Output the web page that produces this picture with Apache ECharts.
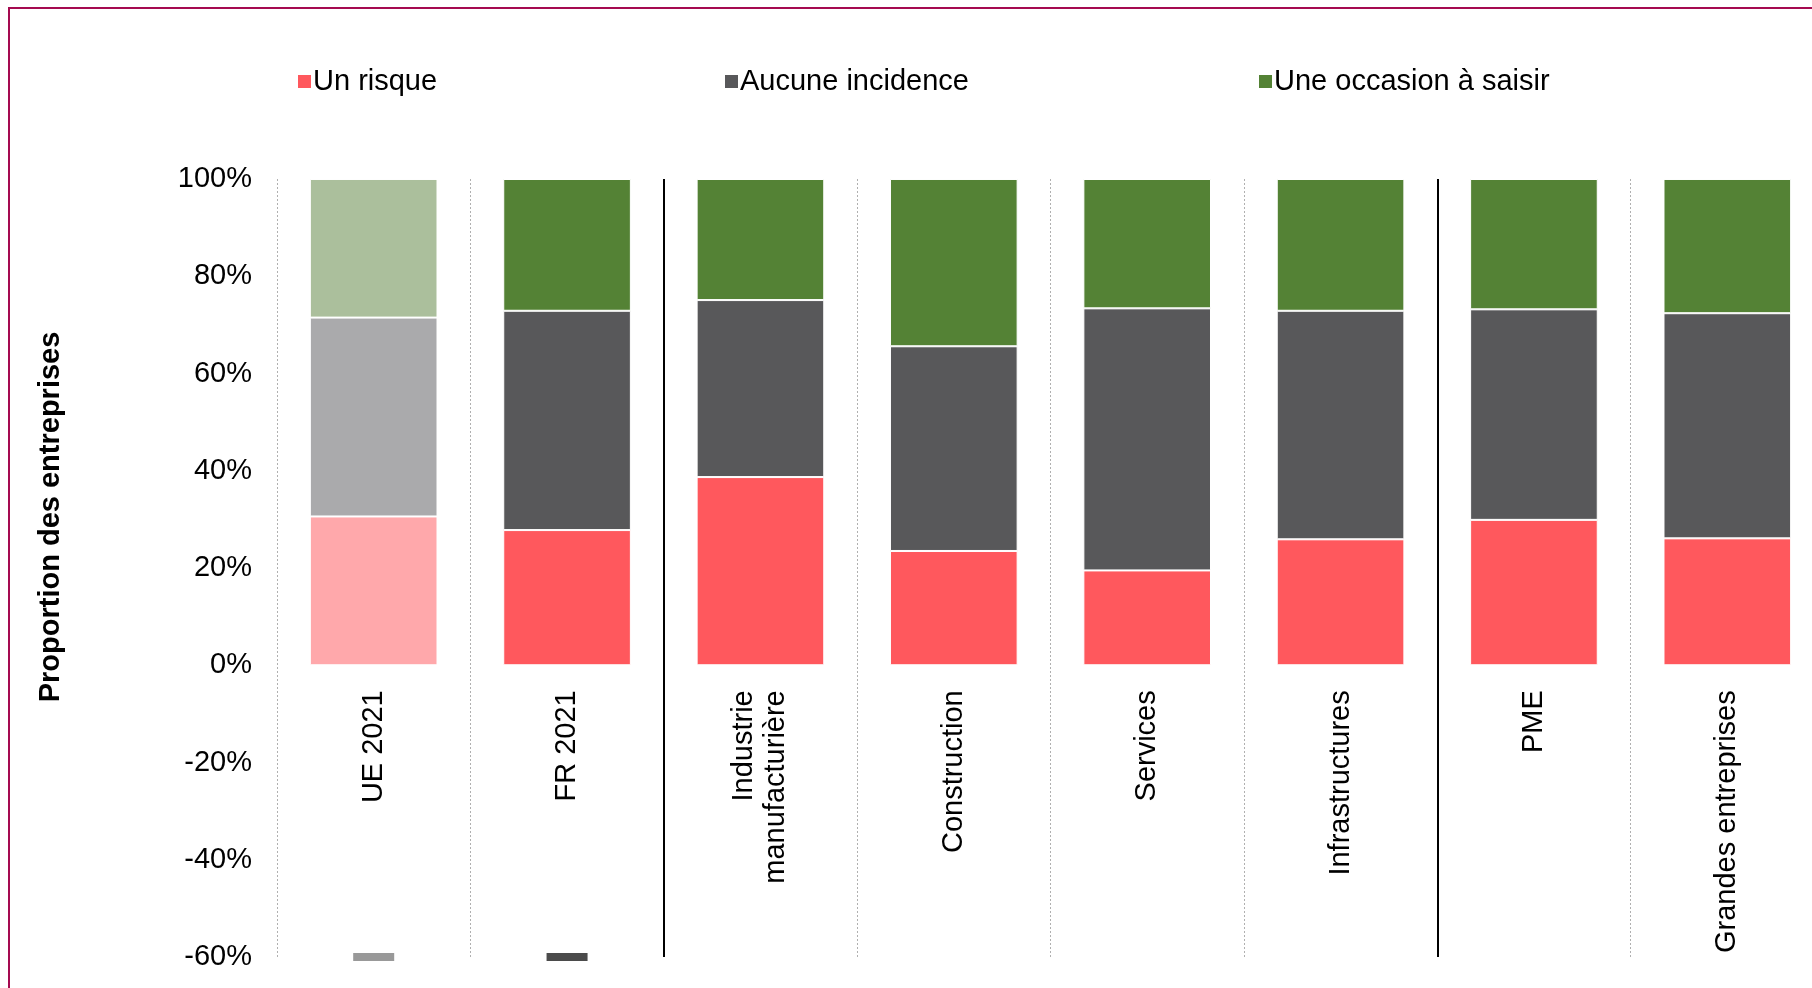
<!DOCTYPE html>
<html>
<head>
<meta charset="utf-8">
<script src="https://cdn.jsdelivr.net/npm/echarts@6/dist/echarts.min.js"></script>
<style>
html,body{margin:0;padding:0;background:#fff;overflow:hidden;}
#frame{position:absolute;left:8px;top:7px;width:1900px;height:1100px;border-left:2px solid #a50a50;border-top:2px solid #a50a50;box-sizing:border-box;}
#chart{position:absolute;left:0;top:0;width:1812px;height:988px;}
</style>
</head>
<body>
<div id="frame"></div>
<div id="chart"></div>
<script>
var categories = ['UE 2021', 'FR 2021', 'Industrie\nmanufacturière', 'Construction', 'Services', 'Infrastructures', 'PME', 'Grandes entreprises'];
var seriesNames = ['Un risque', 'Aucune incidence', 'Une occasion à saisir'];
var risque = [30.6, 27.8, 38.7, 23.5, 19.5, 25.9, 29.9, 26.1];
var aucune = [40.9, 45.1, 36.4, 42.1, 53.9, 47.0, 43.3, 46.3];
var occasion = [28.5, 27.1, 24.9, 34.4, 26.6, 27.1, 26.8, 27.6];
var yTicks = [-60, -40, -20, 0, 20, 40, 60, 80, 100];
var markerCats = ['UE 2021', 'FR 2021'];
var markerVals = [-60, -60];
var separators = [2, 6];

var colors = ['#ff585d', '#58585a', '#548235'];
var fadedColors = ['#ffa8ab', '#aaaaac', '#abbf9c'];
var FONT = 'Liberation Sans, Arial, sans-serif';

var GRID_TOP = 179, GRID_H = 778;
var yMin = yTicks[0], yMax = yTicks[yTicks.length - 1];
// distance from the bottom of the grid up to the 0% line
var zeroOffset = GRID_H * (0 - yMin) / (yMax - yMin);

function mk(vals, idx) {
  return vals.map(function (v, i) {
    if (i === 0) return { value: v, itemStyle: { color: fadedColors[idx] } };
    return v;
  });
}

var chart = echarts.init(document.getElementById('chart'));
var legendLefts = [291, 718, 1252];
var option = {
  animation: false,
  textStyle: { fontFamily: FONT },
  legend: seriesNames.map(function (n, i) {
    return {
      data: [n], left: legendLefts[i], top: 62,
      icon: 'rect', itemWidth: 15, itemHeight: 15,
      textStyle: { fontSize: 29, color: '#000', fontFamily: FONT, padding: [0, 0, 0, -4] },
      selectedMode: false
    };
  }),
  grid: { left: 277, top: GRID_TOP, width: 1547, height: GRID_H, containLabel: false, outerBoundsMode: 'none' },
  xAxis: [{
    type: 'category', data: categories, position: 'bottom', offset: -zeroOffset,
    axisLine: { show: false, onZero: false },
    axisTick: { show: false },
    splitLine: { show: false },
    axisLabel: { rotate: 90, fontSize: 29, color: '#000', margin: 25, lineHeight: 32, fontFamily: FONT, interval: 0 }
  }, {
    type: 'value', min: 0, max: 8, interval: 1, position: 'bottom',
    axisLine: { show: false, onZero: false }, axisTick: { show: false }, axisLabel: { show: false },
    splitLine: { show: true, lineStyle: { color: '#b0b0b0', type: [2, 2], width: 1 } }
  }],
  yAxis: {
    type: 'value', min: yMin, max: yMax, interval: 20,
    name: 'Proportion des entreprises', nameLocation: 'middle', nameGap: 212,
    nameTextStyle: { fontSize: 29, fontWeight: 'bold', color: '#000', fontFamily: FONT, padding: [0, 0, 0, 102] },
    axisLine: { show: false, onZero: false }, axisTick: { show: false },
    splitLine: { show: false },
    axisLabel: { formatter: '{value}%', fontSize: 29, color: '#000', margin: 25, fontFamily: FONT }
  },
  series: [
    { name: seriesNames[0], type: 'bar', stack: 's', barWidth: '66%', data: mk(risque, 0),
      itemStyle: { color: colors[0], borderColor: '#fff', borderWidth: 1 } },
    { name: seriesNames[1], type: 'bar', stack: 's', barWidth: '66%', data: mk(aucune, 1),
      itemStyle: { color: colors[1], borderColor: '#fff', borderWidth: 1 } },
    { name: seriesNames[2], type: 'bar', stack: 's', barWidth: '66%', data: mk(occasion, 2),
      itemStyle: { color: colors[2], borderColor: '#fff', borderWidth: 1 } },
    { name: 'marqueurs', type: 'scatter', symbol: 'rect', symbolSize: [41, 8], silent: true,
      data: markerCats.map(function (c, i) {
        return { value: [c, markerVals[i]], itemStyle: { color: i === 0 ? '#808080' : '#1e1e1e' } };
      }) },
    { name: 'sep', type: 'line', xAxisIndex: 1, data: [], silent: true,
      markLine: { symbol: 'none', silent: true, label: { show: false },
        lineStyle: { color: '#000', width: 2, type: 'solid' },
        data: separators.map(function (s) { return { xAxis: s }; }) } }
  ]
};
chart.setOption(option);
</script>
</body>
</html>
